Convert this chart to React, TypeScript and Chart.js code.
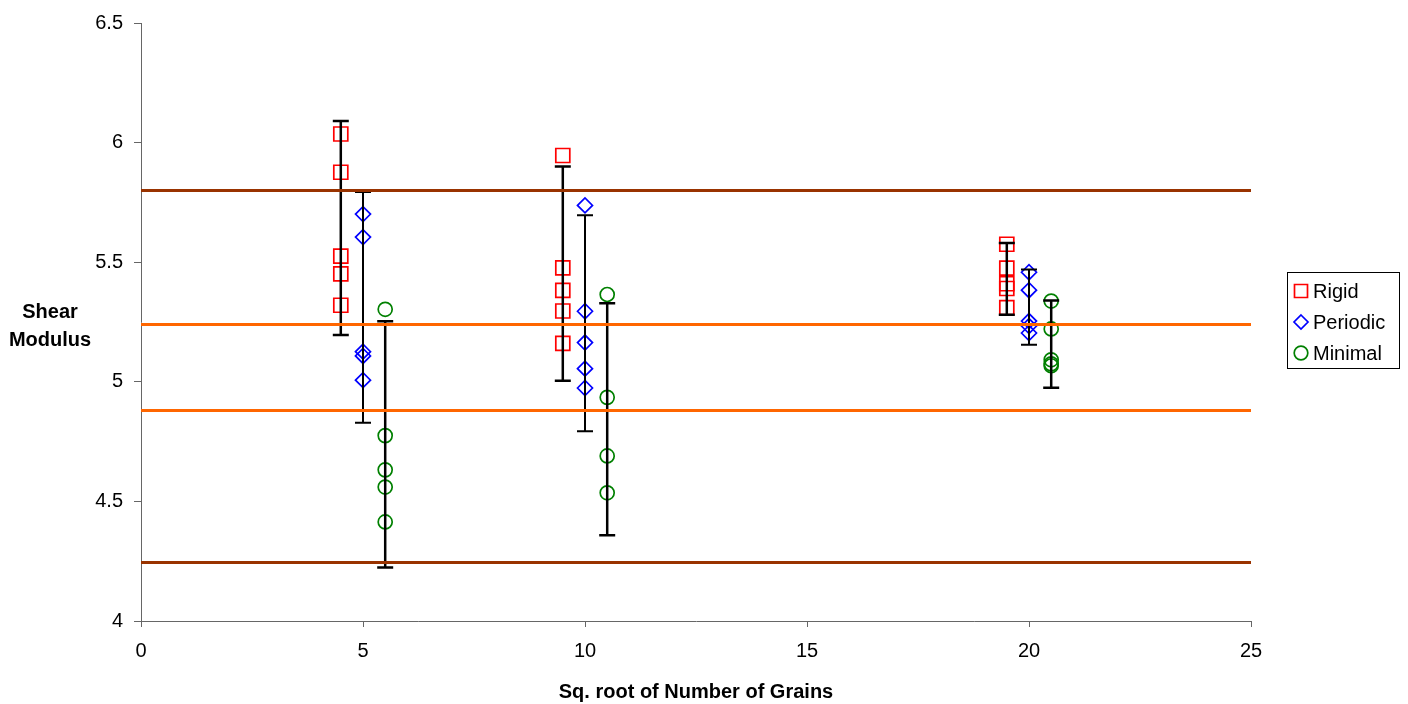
import React, { useEffect, useRef } from 'react';
import { Chart, registerables } from 'chart.js';

Chart.register(...registerables);

// ---- data ----
const xTickValues = [0, 5, 10, 15, 20, 25];
const yTickValues = [4, 4.5, 5, 5.5, 6, 6.5];
const seriesNames = ['Rigid', 'Periodic', 'Minimal'];
const yTitleLines = ['Shear', 'Modulus'];
const xTitle = 'Sq. root of Number of Grains';

const rigidX = [4.5, 9.5, 19.5];
const rigidValues = [
  [6.036, 5.876, 5.525, 5.451, 5.32],
  [5.946, 5.476, 5.382, 5.296, 5.161],
  [5.575, 5.475, 5.41, 5.39, 5.31],
];
const rigidErrLow = [5.196, 5.004, 5.28];
const rigidErrHigh = [6.09, 5.9, 5.58];

const periodicX = [5, 10, 20];
const periodicValues = [
  [5.701, 5.605, 5.126, 5.108, 5.007],
  [5.7375, 5.295, 5.164, 5.055, 4.974],
  [5.458, 5.383, 5.254, 5.233, 5.204],
];
const periodicErrLow = [4.829, 4.793, 5.155];
const periodicErrHigh = [5.793, 5.696, 5.47];

const minimalX = [5.5, 10.5, 20.5];
const minimalValues = [
  [5.303, 4.775, 4.632, 4.56, 4.414],
  [5.365, 4.935, 4.69, 4.536],
  [5.3375, 5.221, 5.092, 5.075, 5.067],
];
const minimalErrLow = [4.224, 4.358, 4.975];
const minimalErrHigh = [5.253, 5.328, 5.34];

const referenceLevels = [5.8, 5.24, 4.88, 4.245];
const referenceRange = [0, 25];

const FONT = "'Liberation Sans', Arial, Helvetica, sans-serif";

function toPoints(xs: number[], vals: number[][]) {
  const out: { x: number; y: number }[] = [];
  xs.forEach((x, i) => vals[i].forEach((y) => out.push({ x, y })));
  return out;
}

const errorBarPlugin = {
  id: 'errorBars',
  afterDatasetDraw(chart: any, args: any) {
    const ds: any = chart.data.datasets[args.index];
    if (!ds.errX) return;
    const ctx = chart.ctx;
    const xs = chart.scales.x;
    const ys = chart.scales.y;
    ctx.save();
    ctx.strokeStyle = '#000000';
    ctx.lineWidth = ds.errWidth || 2.5;
    ctx.lineCap = 'butt';
    ds.errX.forEach((x: number, i: number) => {
      const px = xs.getPixelForValue(x);
      const pLo = ys.getPixelForValue(ds.errLow[i]);
      const pHi = ys.getPixelForValue(ds.errHigh[i]);
      const cap = 8;
      ctx.beginPath();
      ctx.moveTo(px, pLo);
      ctx.lineTo(px, pHi);
      ctx.moveTo(px - cap, pLo);
      ctx.lineTo(px + cap, pLo);
      ctx.moveTo(px - cap, pHi);
      ctx.lineTo(px + cap, pHi);
      ctx.stroke();
    });
    ctx.restore();
  },
};

const yTitlePlugin = {
  id: 'yTitleHorizontal',
  afterDraw(chart: any) {
    const ctx = chart.ctx;
    const area = chart.chartArea;
    const midY = (area.top + area.bottom) / 2;
    ctx.save();
    ctx.fillStyle = '#000000';
    ctx.font = `bold 20px ${FONT}`;
    ctx.textAlign = 'center';
    ctx.textBaseline = 'alphabetic';
    ctx.fillText(yTitleLines[0], 50, midY - 4);
    ctx.fillText(yTitleLines[1], 50, midY + 24);
    ctx.restore();
  },
};

const legendPlugin = {
  id: 'customLegend',
  afterDraw(chart: any) {
    const ctx = chart.ctx;
    const left = 1287;
    const top = 272;
    const width = 112;
    const height = 96;
    ctx.save();
    ctx.fillStyle = '#ffffff';
    ctx.fillRect(left, top, width, height);
    ctx.strokeStyle = '#000000';
    ctx.lineWidth = 1;
    ctx.strokeRect(left + 0.5, top + 0.5, width, height);
    ctx.font = `20px ${FONT}`;
    ctx.textBaseline = 'alphabetic';
    ctx.textAlign = 'left';
    const markerDatasets = chart.data.datasets.filter((d: any) => d.errX);
    markerDatasets.forEach((ds: any, i: number) => {
      const cy = top + 19 + i * 31;
      const cx = left + 14;
      ctx.strokeStyle = ds.borderColor;
      ctx.lineWidth = 1.7;
      ctx.beginPath();
      if (ds.pointStyle === 'rect') {
        ctx.rect(cx - 6.5, cy - 6.5, 13, 13);
      } else if (ds.pointStyle === 'rectRot') {
        ctx.moveTo(cx, cy - 7);
        ctx.lineTo(cx + 7, cy);
        ctx.lineTo(cx, cy + 7);
        ctx.lineTo(cx - 7, cy);
        ctx.closePath();
      } else {
        ctx.arc(cx, cy, 6.8, 0, Math.PI * 2);
      }
      ctx.stroke();
      ctx.fillStyle = '#000000';
      ctx.fillText(ds.label, left + 26, cy + 7);
    });
    ctx.restore();
  },
};

export default function App() {
  const ref = useRef<HTMLCanvasElement | null>(null);

  useEffect(() => {
    if (!ref.current) return;
    const refColors = ['#993300', '#FF6600', '#FF6600', '#993300'];
    const refDatasets = referenceLevels.map((v, i) => ({
      label: 'ref' + i,
      type: 'scatter' as const,
      data: referenceRange.map((x) => ({ x, y: v })),
      showLine: true,
      borderColor: refColors[i],
      backgroundColor: refColors[i],
      borderWidth: 3,
      pointRadius: 0,
    }));
    const markerDatasets = [
      {
        label: seriesNames[0],
        data: toPoints(rigidX, rigidValues),
        pointStyle: 'rect',
        pointRadius: 9.9,
        borderColor: '#FF0000',
        backgroundColor: 'rgba(0,0,0,0)',
        pointBorderWidth: 1.7,
        errX: rigidX,
        errLow: rigidErrLow,
        errHigh: rigidErrHigh,
        errWidth: 2.5,
      },
      {
        label: seriesNames[1],
        data: toPoints(periodicX, periodicValues),
        pointStyle: 'rectRot',
        pointRadius: 7.5,
        borderColor: '#0000FF',
        backgroundColor: 'rgba(0,0,0,0)',
        pointBorderWidth: 1.7,
        errX: periodicX,
        errLow: periodicErrLow,
        errHigh: periodicErrHigh,
        errWidth: 2,
      },
      {
        label: seriesNames[2],
        data: toPoints(minimalX, minimalValues),
        pointStyle: 'circle',
        pointRadius: 7,
        borderColor: '#008000',
        backgroundColor: 'rgba(0,0,0,0)',
        pointBorderWidth: 1.7,
        errX: minimalX,
        errLow: minimalErrLow,
        errHigh: minimalErrHigh,
        errWidth: 2.5,
      },
    ];

    const chart = new Chart(ref.current, {
      type: 'scatter',
      data: { datasets: [...refDatasets, ...markerDatasets] as any },
      options: {
        animation: false,
        responsive: false,
        events: [],
        layout: { padding: { left: 0, top: 21, right: 157, bottom: 0 } },
        plugins: {
          legend: { display: false },
          tooltip: { enabled: false },
          title: { display: false },
        },
        scales: {
          x: {
            type: 'linear',
            min: 0,
            max: 25,
            afterBuildTicks: (scale: any) => {
              scale.ticks = xTickValues.map((v) => ({ value: v }));
            },
            ticks: {
              color: '#000000',
              font: { family: FONT, size: 20 },
              padding: 12,
              callback: (v: any) => String(v),
            },
            grid: {
              display: true,
              drawOnChartArea: false,
              drawTicks: true,
              tickLength: 6,
              color: '#666666',
            },
            border: { display: true, color: '#666666', width: 1 },
            title: {
              display: true,
              text: xTitle,
              color: '#000000',
              font: { family: FONT, size: 20, weight: 'bold' },
              padding: { top: 0, bottom: 0 },
            },
            afterFit: (scale: any) => {
              scale.height = 83;
            },
          },
          y: {
            type: 'linear',
            min: 4,
            max: 6.5,
            afterBuildTicks: (scale: any) => {
              scale.ticks = yTickValues.map((v) => ({ value: v }));
            },
            ticks: {
              color: '#000000',
              font: { family: FONT, size: 20 },
              padding: 11,
              callback: (v: any) => String(v),
            },
            grid: {
              display: true,
              drawOnChartArea: false,
              drawTicks: true,
              tickLength: 7,
              color: '#666666',
            },
            border: { display: true, color: '#666666', width: 1 },
            afterFit: (scale: any) => {
              scale.width = 141;
            },
          },
        },
      } as any,
      plugins: [errorBarPlugin, yTitlePlugin, legendPlugin],
    });
    return () => chart.destroy();
  }, []);

  return (
    <div style={{ position: 'absolute', left: 0, top: 0, width: 1408, height: 704, background: '#ffffff' }}>
      <canvas ref={ref} width={1408} height={704} style={{ width: 1408, height: 704, display: 'block' }} />
    </div>
  );
}
